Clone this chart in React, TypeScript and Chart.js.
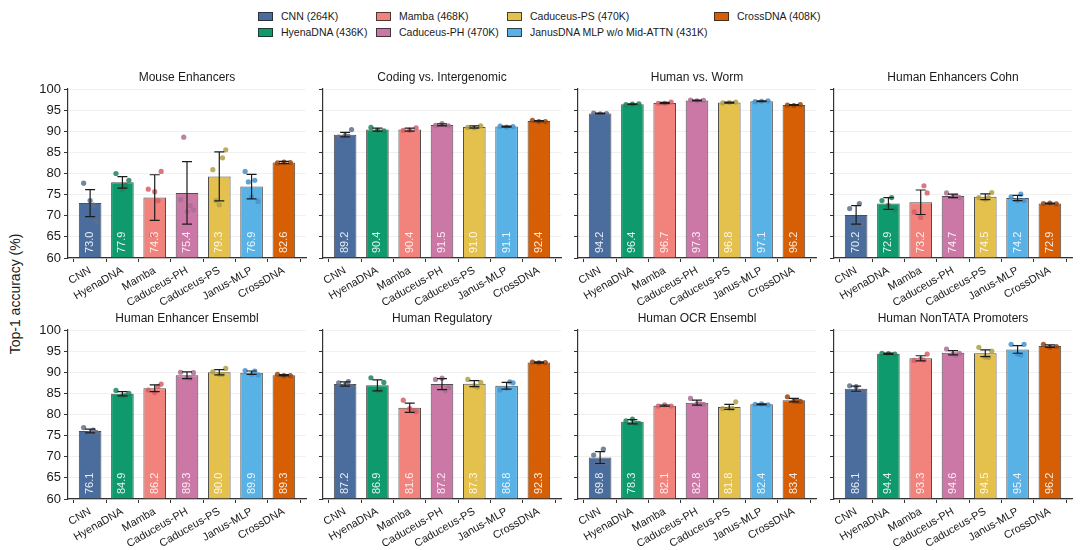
import React, { useEffect, useRef } from "react";
import { Chart, registerables } from "chart.js";

Chart.register(...registerables);

// ---- data ----
const models = ["CNN", "HyenaDNA", "Mamba", "Caduceus-PH", "Caduceus-PS", "Janus-MLP", "CrossDNA"];
const legendNames = [
  "CNN (264K)",
  "HyenaDNA (436K)",
  "Mamba (468K)",
  "Caduceus-PH (470K)",
  "Caduceus-PS (470K)",
  "JanusDNA MLP w/o Mid-ATTN (431K)",
  "CrossDNA (408K)",
];
const yTicks = [60, 65, 70, 75, 80, 85, 90, 95, 100];
const Y_MIN = 60;
const Y_MAX = 100;

// per-seed run offsets along x (in bar units), shared by all bars
const jitterSlots = [-0.2, 0.0, 0.2, 0.1, -0.1];

const mouseMeans = [73.0, 77.9, 74.3, 75.4, 79.3, 76.9, 82.6];
const mouseErrors = [3.2, 1.35, 5.4, 7.4, 5.8, 2.9, 0.25];
const mouseRuns = [
  [77.7, 73.6, 68.7, 72.5],
  [80.0, 76.2, 78.4, 77.2],
  [76.3, 75.7, 80.5, 73.6, 65.5],
  [73.8, 71.0, 71.4, 72.4, 88.6],
  [80.9, 72.6, 85.6, 83.7, 73.6],
  [80.5, 74.5, 73.4, 78.4, 78.0],
  [82.5, 82.7, 82.6],
];

const codingMeans = [89.2, 90.4, 90.4, 91.5, 91.0, 91.1, 92.4];
const codingErrors = [0.55, 0.35, 0.35, 0.25, 0.25, 0.1, 0.15];
const codingRuns = [
  [88.6, 89.0, 90.4, 88.8],
  [90.9, 90.2, 90.1],
  [90.2, 90.2, 90.8],
  [91.4, 91.8, 91.3],
  [90.9, 90.8, 91.3],
  [91.2, 91.0, 91.1],
  [92.6, 92.3, 92.3],
];

const wormMeans = [94.2, 96.4, 96.7, 97.3, 96.8, 97.1, 96.2];
const wormErrors = [0.1, 0.1, 0.15, 0.1, 0.12, 0.1, 0.1];
const wormRuns = [
  [94.3, 94.1, 94.2],
  [96.3, 96.4, 96.5],
  [96.6, 96.6, 96.9],
  [97.4, 97.2, 97.3],
  [96.7, 96.8, 96.9],
  [97.0, 97.1, 97.2],
  [96.2, 96.1, 96.3],
];

const cohnMeans = [70.2, 72.9, 73.2, 74.7, 74.5, 74.2, 72.9];
const cohnErrors = [2.2, 1.4, 2.9, 0.4, 0.7, 0.6, 0.1];
const cohnRuns = [
  [71.7, 68.3, 68.0, 72.9],
  [73.6, 72.4, 71.4, 74.3],
  [70.9, 69.6, 75.4, 77.1],
  [75.4, 74.5, 74.3, 74.6],
  [74.3, 73.9, 75.5, 74.3],
  [74.5, 73.6, 73.6, 75.1],
  [72.9, 73.0, 72.8],
];

const enhEnsMeans = [76.1, 84.9, 86.2, 89.3, 90.0, 89.9, 89.3];
const enhEnsErrors = [0.45, 0.5, 0.8, 0.8, 0.6, 0.4, 0.15];
const enhEnsRuns = [
  [76.9, 75.6, 75.7, 76.3],
  [85.7, 84.4, 85.0, 84.5],
  [85.8, 85.2, 87.2, 86.6],
  [90.0, 88.7, 89.9, 88.6],
  [90.1, 89.5, 90.9, 89.5],
  [90.4, 89.5, 89.4, 90.3],
  [89.5, 89.2, 89.2],
];

const regulatoryMeans = [87.2, 86.9, 81.6, 87.2, 87.3, 86.8, 92.3];
const regulatoryErrors = [0.5, 1.3, 1.1, 1.3, 0.7, 0.8, 0.15];
const regulatoryRuns = [
  [87.5, 86.9, 86.6, 87.8],
  [88.7, 85.6, 87.6, 85.7],
  [83.4, 81.4, 80.7, 80.9],
  [88.3, 88.6, 86.3, 85.6],
  [88.3, 86.8, 87.6, 86.5],
  [85.8, 86.2, 87.5, 87.7],
  [92.4, 92.2, 92.3],
];

const ocrMeans = [69.8, 78.3, 82.1, 82.8, 81.8, 82.4, 83.4];
const ocrErrors = [1.4, 0.5, 0.15, 0.6, 0.6, 0.1, 0.4];
const ocrRuns = [
  [70.4, 68.6, 68.4, 71.8],
  [78.5, 78.9, 77.9, 77.9],
  [82.0, 82.3, 82.0],
  [83.8, 82.5, 82.4, 82.5],
  [81.4, 81.4, 83.0, 81.4],
  [82.4, 82.5, 82.3],
  [84.2, 83.2, 83.1, 83.1],
];

const nonTataMeans = [86.1, 94.4, 93.3, 94.6, 94.5, 95.4, 96.2];
const nonTataErrors = [0.6, 0.15, 0.6, 0.5, 0.8, 0.9, 0.3];
const nonTataRuns = [
  [86.8, 86.6, 85.5, 85.5],
  [94.5, 94.4, 94.3],
  [92.8, 93.2, 94.3, 92.9],
  [95.5, 94.3, 94.5, 94.1],
  [95.9, 93.6, 95.0, 93.5],
  [96.6, 94.3, 96.6, 94.1],
  [96.6, 95.9, 96.1],
];

// ---- styling ----
const FONT = "'Liberation Sans', Arial, Helvetica, sans-serif";
const barColors = ["#4a6d9e", "#0e9a6c", "#f2827c", "#cc78a6", "#e4c04c", "#58b2e6", "#d65f05"];
const pointColors = [
  "rgba(95,110,140,0.85)",
  "rgba(30,130,90,0.85)",
  "rgba(215,95,105,0.85)",
  "rgba(170,110,145,0.85)",
  "rgba(175,160,70,0.85)",
  "rgba(70,145,205,0.85)",
  "rgba(150,70,20,0.85)",
];

type Panel = { title: string; means: number[]; errors: number[]; runs: number[][] };

const panels: Panel[] = [
  { title: "Mouse Enhancers", means: mouseMeans, errors: mouseErrors, runs: mouseRuns },
  { title: "Coding vs. Intergenomic", means: codingMeans, errors: codingErrors, runs: codingRuns },
  { title: "Human vs. Worm", means: wormMeans, errors: wormErrors, runs: wormRuns },
  { title: "Human Enhancers Cohn", means: cohnMeans, errors: cohnErrors, runs: cohnRuns },
  { title: "Human Enhancer Ensembl", means: enhEnsMeans, errors: enhEnsErrors, runs: enhEnsRuns },
  { title: "Human Regulatory", means: regulatoryMeans, errors: regulatoryErrors, runs: regulatoryRuns },
  { title: "Human OCR Ensembl", means: ocrMeans, errors: ocrErrors, runs: ocrRuns },
  { title: "Human NonTATA Promoters", means: nonTataMeans, errors: nonTataErrors, runs: nonTataRuns },
];

// grid geometry
const COL_X = [68, 323, 578, 834];
const ROW_Y = [89, 330];
const PLOT_W = 238;
const PLOT_H = 169;
const Y_AXIS_W = 45;
const TOP_PAD = 22;
const RIGHT_PAD = 8;
const X_AXIS_H = 52;
const X_MIN = -0.685;
const X_MAX = models.length - 1 + 0.685;

// error bars, value labels and subplot title
const decorPlugin = {
  id: "decor",
  afterDatasetsDraw(chart: any) {
    const panel: Panel = chart.options.plugins.decor.panel;
    const { ctx, chartArea } = chart;
    const xs = chart.scales.x;
    const ys = chart.scales.y;
    ctx.save();
    // value labels at the foot of each bar
    ctx.font = `11px ${FONT}`;
    ctx.fillStyle = "rgba(255,255,255,0.88)";
    ctx.textAlign = "left";
    ctx.textBaseline = "middle";
    panel.means.forEach((m, i) => {
      const x = xs.getPixelForValue(i);
      ctx.save();
      ctx.translate(x, chartArea.bottom - 5);
      ctx.rotate(-Math.PI / 2);
      ctx.fillText(m.toFixed(1), 0, 0);
      ctx.restore();
    });
    // error bars
    ctx.strokeStyle = "#1c1c1c";
    ctx.lineWidth = 1.2;
    panel.means.forEach((m, i) => {
      const x = xs.getPixelForValue(i);
      const yt = ys.getPixelForValue(m + panel.errors[i]);
      const yb = ys.getPixelForValue(m - panel.errors[i]);
      ctx.beginPath();
      ctx.moveTo(x, yt);
      ctx.lineTo(x, yb);
      ctx.moveTo(x - 5, yt);
      ctx.lineTo(x + 5, yt);
      ctx.moveTo(x - 5, yb);
      ctx.lineTo(x + 5, yb);
      ctx.stroke();
    });
    ctx.restore();
  },
  afterDraw(chart: any) {
    const panel: Panel = chart.options.plugins.decor.panel;
    const { ctx, chartArea } = chart;
    ctx.save();
    ctx.font = `12px ${FONT}`;
    ctx.fillStyle = "#1a1a1a";
    ctx.textAlign = "center";
    ctx.textBaseline = "middle";
    ctx.fillText(panel.title, (chartArea.left + chartArea.right) / 2, chartArea.top - 11);
    ctx.restore();
  },
};

function PanelChart({ panel, col, row }: { panel: Panel; col: number; row: number }) {
  const ref = useRef<HTMLCanvasElement>(null);
  const width = Y_AXIS_W + PLOT_W + RIGHT_PAD;
  const height = TOP_PAD + PLOT_H + X_AXIS_H;

  useEffect(() => {
    if (!ref.current) return;
    const runPoints: { x: number; y: number }[] = [];
    const runColors: string[] = [];
    panel.runs.forEach((vals, i) =>
      vals.forEach((v, k) => {
        runPoints.push({ x: i + jitterSlots[k], y: v });
        runColors.push(pointColors[i]);
      })
    );
    const chart = new Chart(ref.current, {
      type: "bar",
      data: {
        datasets: [
          {
            type: "bar",
            data: panel.means.map((m, i) => ({ x: i, y: m })),
            backgroundColor: barColors,
            borderColor: "rgba(35,35,35,0.8)",
            borderWidth: 1,
            barPercentage: 0.7,
            categoryPercentage: 1,
            base: Y_MIN,
            order: 2,
          } as any,
          {
            type: "scatter",
            data: runPoints,
            pointBackgroundColor: runColors,
            pointBorderWidth: 0,
            pointRadius: 2.6,
            order: 1,
          } as any,
        ],
      },
      options: {
        animation: false,
        responsive: false,
        devicePixelRatio: 1,
        events: [],
        layout: { padding: { top: TOP_PAD, right: RIGHT_PAD, left: 0, bottom: 0 } },
        plugins: {
          legend: { display: false },
          tooltip: { enabled: false },
          decor: { panel },
        } as any,
        scales: {
          x: {
            type: "linear",
            min: X_MIN,
            max: X_MAX,
            offset: false,
            afterBuildTicks: (s: any) => {
              s.ticks = models.map((_, i) => ({ value: i }));
            },
            afterFit: (s: any) => {
              s.height = X_AXIS_H;
              s.paddingLeft = 0;
              s.paddingRight = 0;
            },
            ticks: {
              autoSkip: false,
              minRotation: 30,
              maxRotation: 30,
              padding: 2,
              color: "#1a1a1a",
              font: { family: FONT, size: 11 },
              callback: (v: any) => models[Math.round(Number(v))],
            },
            grid: { drawOnChartArea: false, tickLength: 4, tickColor: "#333", tickWidth: 1 },
            border: { color: "#333", width: 1.2 },
          },
          y: {
            min: Y_MIN,
            max: Y_MAX,
            afterBuildTicks: (s: any) => {
              s.ticks = yTicks.map((v) => ({ value: v }));
            },
            afterFit: (s: any) => {
              s.width = Y_AXIS_W;
              s.paddingTop = 0;
              s.paddingBottom = 0;
            },
            ticks: {
              display: col === 0,
              padding: 3,
              color: "#1a1a1a",
              font: { family: FONT, size: 13 },
            },
            grid: { color: "#ececec", lineWidth: 0.8, tickLength: 4, tickColor: "#333", tickWidth: 1 },
            border: { color: "#333", width: 1.2 },
          },
        } as any,
      },
      plugins: [decorPlugin],
    } as any);
    return () => chart.destroy();
  }, [panel, col, row]);

  return (
    <canvas
      ref={ref}
      width={width}
      height={height}
      style={{
        position: "absolute",
        left: COL_X[col] - Y_AXIS_W,
        top: ROW_Y[row] - TOP_PAD,
        width,
        height,
      }}
    />
  );
}

// legend laid out column by column, two rows
const legendCols = [258, 376, 507, 714];
const legendRows = [16, 32];

function Legend() {
  return (
    <>
      {legendNames.map((name, i) => {
        const c = Math.floor(i / 2);
        const r = i % 2;
        return (
          <div
            key={name}
            style={{
              position: "absolute",
              left: legendCols[c],
              top: legendRows[r] - 8,
              height: 16,
              display: "flex",
              alignItems: "center",
              whiteSpace: "nowrap",
              fontFamily: FONT,
              fontSize: 10.5,
              color: "#1a1a1a",
            }}
          >
            <span
              style={{
                display: "inline-block",
                width: 13,
                height: 7,
                background: barColors[i],
                border: "1px solid rgba(35,35,35,0.8)",
                marginRight: 8,
              }}
            />
            <span>{name}</span>
          </div>
        );
      })}
    </>
  );
}

export default function App() {
  return (
    <div
      style={{
        position: "absolute",
        left: 0,
        top: 0,
        width: 1080,
        height: 550,
        background: "#ffffff",
        overflow: "hidden",
      }}
    >
      <Legend />
      <div
        style={{
          position: "absolute",
          left: 15 - 100,
          top: 294 - 9,
          width: 200,
          height: 18,
          lineHeight: "18px",
          textAlign: "center",
          transform: "rotate(-90deg)",
          fontFamily: FONT,
          fontSize: 14,
          color: "#1a1a1a",
        }}
      >
        Top-1 accuracy (%)
      </div>
      {panels.map((p, i) => (
        <PanelChart key={p.title} panel={p} col={i % 4} row={Math.floor(i / 4)} />
      ))}
    </div>
  );
}
